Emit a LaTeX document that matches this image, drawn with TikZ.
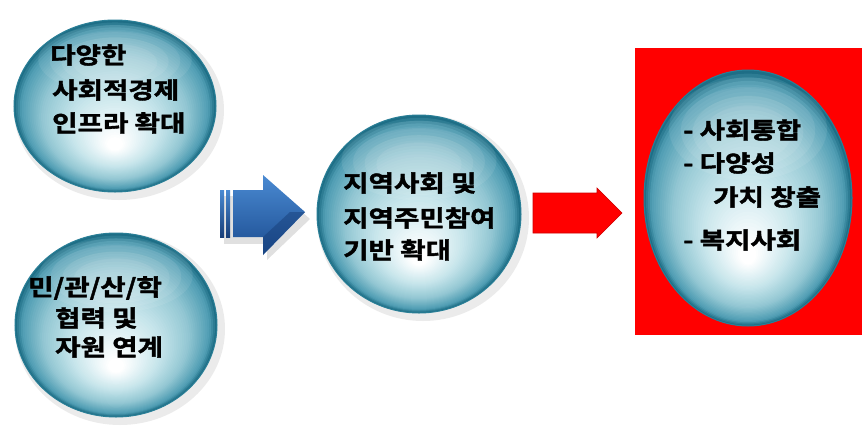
\documentclass[tikz,border=0pt]{standalone}
\usepackage{fontspec}
\newfontfamily\kr{Noto Sans CJK KR}[BoldFont={Noto Sans CJK KR Bold}, BoldFeatures={FakeBold=1.8}, FakeStretch=1.2]
\usetikzlibrary{shapes.geometric,calc}
\definecolor{g2}{HTML}{C6E5EB}
\definecolor{g3}{HTML}{93C7D3}
\definecolor{g4}{HTML}{4F9DB3}
\definecolor{g6}{HTML}{1E6E86}
\definecolor{rim}{HTML}{2A7F97}
\definecolor{bluetop}{HTML}{4A8AD2}
\definecolor{bluebot}{HTML}{1B4C90}
\definecolor{bluedark}{HTML}{173E78}
\definecolor{redfill}{HTML}{FF0000}
\newcommand\glassball[5]{%
  \node[ellipse, minimum width=#4pt, minimum height=#5pt, inner sep=0pt, outer sep=0pt, fill=g6] (#1) at (#2,#3) {};
  \foreach \k in {1,...,48}{%
    \pgfmathsetmacro\tt{\k/48}%
    \pgfmathsetmacro\rx{#4*(1-0.92*\tt)/2}%
    \pgfmathsetmacro\ry{#5*(1-0.92*\tt)/2}%
    \pgfmathsetmacro\dy{#5*0.22*\tt}%
    \ifdim\tt pt<0.07pt
      \pgfmathsetmacro\pp{\tt/0.07*100}\colorlet{cc}{g4!\pp!g6}%
    \else\ifdim\tt pt<0.3pt
      \pgfmathsetmacro\pp{(\tt-0.07)/0.23*100}\colorlet{cc}{g3!\pp!g4}%
    \else\ifdim\tt pt<0.6pt
      \pgfmathsetmacro\pp{(\tt-0.3)/0.3*100}\colorlet{cc}{g2!\pp!g3}%
    \else
      \pgfmathsetmacro\pp{(\tt-0.6)/0.4*100}\colorlet{cc}{white!\pp!g2}%
    \fi\fi\fi
    \fill[cc] ($(#1.center)+(0,\dy)$) ellipse [x radius=\rx pt, y radius=\ry pt];
  }%
  \foreach \s in {1.0,0.85,0.7,0.55}{%
    \pgfmathsetmacro\gx{#4*0.38*\s}\pgfmathsetmacro\gy{#5*0.2*\s}\pgfmathsetmacro\gd{-#5*(0.27-0.04*(1-\s))}%
    \fill[white, opacity=0.08] ($(#1.center)+(0,\gd)$) ellipse [x radius=\gx pt, y radius=\gy pt];
  }%
  \draw[rim, line width=1pt] (#1.north) arc[start angle=90, end angle=450, x radius=#4pt/2, y radius=#5pt/2];
}
\tikzset{
  sphereshadow/.style={ellipse, inner sep=0pt, fill=black, opacity=0.08},
  lbl/.style={anchor=west, inner sep=0pt, text=black, font=\kr\bfseries\fontsize{23}{23}\selectfont},
}
\begin{document}
\begin{tikzpicture}[x=1pt, y=-1pt]
\useasboundingbox[fill=white] (0,0) rectangle (862,437);
% red box
\fill[redfill] (635,48) rectangle (862,335);
% shadows
\node[sphereshadow, minimum width=210pt, minimum height=180pt] (s1) at (119,110) {};
\node[sphereshadow, minimum width=210pt, minimum height=192pt] (s2) at (120,329) {};
\node[sphereshadow, minimum width=212pt, minimum height=206pt] (s3) at (423,218) {};
% spheres
\glassball{c1}{115}{106}{202}{172}
\glassball{c2}{116}{325}{202}{184}
\glassball{c3}{419}{214}{204}{198}
\glassball{c4}{748}{198}{208}{256}
% blue arrow
\fill[black, opacity=0.12] (224,196) rectangle (268,244);
\fill[black, opacity=0.12] (267,181) -- (310,219) -- (267,260) -- cycle;
\shade[top color=bluetop, bottom color=bluebot] (233,190) -- (263,190) -- (263,175) -- (305,212) -- (263,255) -- (263,237) -- (233,237) -- cycle;
\fill[bluedark, opacity=0.5] (263,255) -- (305,212) -- (290,212) -- (263,237) -- cycle;
\shade[top color=bluetop, bottom color=bluedark] (220,190) rectangle (224,237);
\shade[top color=bluetop, bottom color=bluedark] (226,190) rectangle (230,237);
% red arrow
\fill[redfill, draw=red!80!black, line width=0.6pt] (533,193) -- (597,193) -- (597,188) -- (622,213) -- (597,238) -- (597,233) -- (533,233) -- cycle;
% texts
\node[lbl] (t11) at (50,55) {다양한};
\node[lbl] (t12) at (52,90) {사회적경제};
\node[lbl] (t13) at (52,123) {인프라 확대};
\node[lbl] (t21) at (28,288) {민/관/산/학};
\node[lbl] (t22) at (55,318) {협력 및};
\node[lbl] (t23) at (55,347) {자원 연계};
\node[lbl] (t31) at (343,183) {지역사회 및};
\node[lbl] (t32) at (343,218) {지역주민참여};
\node[lbl] (t33) at (343,250) {기반 확대};
\node[lbl] (t41) at (683,130) {- 사회통합};
\node[lbl] (t42) at (683,163) {- 다양성};
\node[lbl] (t43) at (713,197) {가치 창출};
\node[lbl] (t44) at (683,240) {- 복지사회};
\end{tikzpicture}
\end{document}
